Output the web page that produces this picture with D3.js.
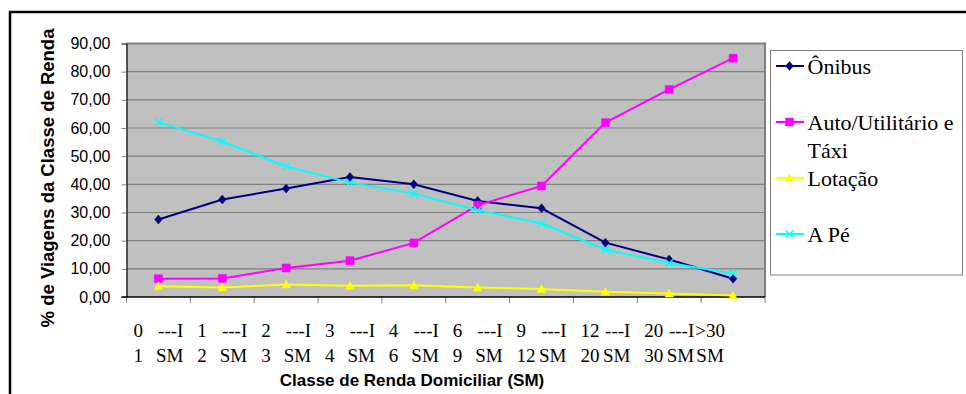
<!DOCTYPE html>
<html>
<head>
<meta charset="utf-8">
<script src="https://cdn.jsdelivr.net/npm/d3@7"></script>
<style>
  html, body { margin: 0; padding: 0; background: #fff; }
  svg { display: block; }
</style>
</head>
<body>
<svg id="chart" width="966" height="394"></svg>
<script>
// Income classes (in minimum wages, SM)
const categories = ["0 ---I 1 SM", "1 ---I 2 SM", "2 ---I 3 SM", "3 ---I 4 SM", "4 ---I 6 SM",
                    "6 ---I 9 SM", "9 ---I 12 SM", "12 ---I 20 SM", "20 ---I 30 SM", ">30 SM"];

// Share of trips (%) by mode for each income class
const onibus  = [27.5, 34.6, 38.5, 42.6, 40.0, 34.1, 31.5, 19.3, 13.3, 6.5];
const auto    = [6.5, 6.6, 10.3, 12.9, 19.2, 32.6, 39.4, 61.9, 73.7, 84.8];
const lotacao = [3.8, 3.4, 4.4, 4.0, 4.2, 3.4, 2.8, 1.9, 1.2, 0.5];
const aPe     = [62.1, 55.2, 46.4, 40.6, 36.7, 30.8, 26.2, 16.8, 12.1, 8.3];

const seriesNames = ["Ônibus", "Auto/Utilitário e Táxi", "Lotação", "A Pé"];
const yTicks = [0, 10, 20, 30, 40, 50, 60, 70, 80, 90];

const series = [
  { name: seriesNames[0], values: onibus,  color: "#000080", marker: "diamond" },
  { name: seriesNames[1], values: auto,    color: "#FF00FF", marker: "square" },
  { name: seriesNames[2], values: lotacao, color: "#FFFF00", marker: "triangle" },
  { name: seriesNames[3], values: aPe,     color: "#00FFFF", marker: "cross" }
];

const SERIF = "Liberation Serif";
const SANS = "Liberation Sans";

const svg = d3.select("#chart");
const plot = { left: 126.5, right: 765, top: 43.5, bottom: 297 };

const x = d3.scaleBand().domain(categories).range([plot.left, plot.right]).padding(0);
const y = d3.scaleLinear().domain([0, 90]).range([plot.bottom, plot.top]);
const cx = c => x(c) + x.bandwidth() / 2;

const ptBR = d3.formatLocale({ decimal: ",", thousands: ".", grouping: [3], currency: ["R$", ""] });
const fmt = ptBR.format(".2f");

// Outer chart frame
svg.append("rect")
  .attr("x", 10).attr("y", 12).attr("width", 990).attr("height", 420)
  .attr("fill", "none").attr("stroke", "#000").attr("stroke-width", 2.5);

// Plot area background
svg.append("rect")
  .attr("x", plot.left).attr("y", plot.top)
  .attr("width", plot.right - plot.left).attr("height", plot.bottom - plot.top)
  .attr("fill", "#C0C0C0");

// Horizontal gridlines
svg.append("g").selectAll("line").data(yTicks.filter(d => d > 0)).join("line")
  .attr("x1", plot.left).attr("x2", plot.right)
  .attr("y1", d => y(d)).attr("y2", d => y(d))
  .attr("stroke", "#808080").attr("stroke-width", d => d === 90 ? 2 : 1.2);

// Right border of the plot area
svg.append("line")
  .attr("x1", plot.right).attr("x2", plot.right)
  .attr("y1", plot.top - 1).attr("y2", plot.bottom)
  .attr("stroke", "#808080").attr("stroke-width", 2);

// Y axis
const yAxis = svg.append("g")
  .attr("transform", `translate(${plot.left},0)`)
  .call(d3.axisLeft(y).tickValues(yTicks).tickFormat(fmt).tickSize(5).tickPadding(11));
yAxis.select(".domain").attr("stroke", "#000").attr("stroke-width", 1.2);
yAxis.selectAll(".tick line").attr("stroke", "#808080");
yAxis.selectAll(".tick text")
  .attr("font-family", SANS)
  .attr("font-size", 16).attr("fill", "#000");

// X axis: tick marks sit on the category boundaries
const boundaries = categories.map(c => x(c)).concat([plot.right]);
svg.append("g").selectAll("line").data(boundaries).join("line")
  .attr("x1", d => d).attr("x2", d => d)
  .attr("y1", plot.bottom).attr("y2", plot.bottom + 6)
  .attr("stroke", "#808080").attr("stroke-width", 1);
svg.append("line")
  .attr("x1", plot.left - 5).attr("x2", plot.right)
  .attr("y1", plot.bottom).attr("y2", plot.bottom)
  .attr("stroke", "#000").attr("stroke-width", 1.5);

// Category labels: two justified lines per class
const labelG = svg.append("g")
  .attr("font-family", SERIF)
  .attr("font-size", 19).attr("fill", "#000");
const half = 25;
const lineY = [337, 362];
categories.forEach(c => {
  const mid = cx(c);
  const words = c.split(" ");
  if (words.length === 4) {
    [[words[0], words[1]], [words[2], words[3]]].forEach((pair, i) => {
      labelG.append("text").attr("x", mid - half).attr("y", lineY[i])
        .attr("text-anchor", "start").text(pair[0]);
      labelG.append("text").attr("x", mid + half).attr("y", lineY[i])
        .attr("text-anchor", "end").text(pair[1]);
    });
  } else {
    words.forEach((w, i) => {
      labelG.append("text").attr("x", mid - 23).attr("y", lineY[i])
        .attr("text-anchor", "middle").text(w);
    });
  }
});

// Axis titles
svg.append("text")
  .attr("x", 412).attr("y", 386)
  .attr("text-anchor", "middle")
  .attr("font-family", SANS)
  .attr("font-weight", "bold").attr("font-size", 17)
  .text("Classe de Renda Domiciliar (SM)");

svg.append("text")
  .attr("transform", "translate(54,178) rotate(-90)")
  .attr("text-anchor", "middle")
  .attr("font-family", SANS)
  .attr("font-weight", "bold").attr("font-size", 18.5)
  .text("% de Viagens da Classe de Renda");

// Marker shapes
function markerPath(type) {
  switch (type) {
    case "diamond":  return "M0,-4.5L3.8,0L0,4.5L-3.8,0Z";
    case "square":   return "M-4,-4H4V4H-4Z";
    case "triangle": return "M0,-4.5L4.3,3.5H-4.3Z";
    case "cross":    return "M-3.8,-3.8L3.8,3.8M-3.8,3.8L3.8,-3.8";
  }
}
function drawMarker(g, type, color) {
  const p = g.append("path").attr("d", markerPath(type));
  if (type === "cross") p.attr("fill", "none").attr("stroke", color).attr("stroke-width", 1.3);
  else p.attr("fill", color).attr("stroke", color).attr("stroke-width", 0.5);
}

// Series lines and markers
const line = d3.line()
  .x((d, i) => cx(categories[i]))
  .y(d => y(d));

series.forEach(s => {
  const g = svg.append("g");
  g.append("path").attr("d", line(s.values))
    .attr("fill", "none").attr("stroke", s.color).attr("stroke-width", 2);
  s.values.forEach((v, i) => {
    const m = g.append("g")
      .attr("transform", `translate(${cx(categories[i])},${y(v)})`);
    drawMarker(m, s.marker, s.color);
  });
});

// Legend
const legend = svg.append("g");
legend.append("rect")
  .attr("x", 770.5).attr("y", 50.5).attr("width", 192).attr("height", 224.5)
  .attr("fill", "#fff").attr("stroke", "#808080").attr("stroke-width", 1);

const legendLines = [["Ônibus"], ["Auto/Utilitário e", "Táxi"], ["Lotação"], ["A Pé"]];
const rowH = 28;
series.forEach((s, i) => {
  const base = 73.5 + i * 2 * rowH;
  const my = base - 7.5;
  const g = legend.append("g");
  g.append("line").attr("x1", 776).attr("x2", 804).attr("y1", my).attr("y2", my)
    .attr("stroke", s.color).attr("stroke-width", 2);
  const m = g.append("g").attr("transform", `translate(789.5,${my})`);
  drawMarker(m, s.marker, s.color);
  legendLines[i].forEach((t, j) => {
    g.append("text").attr("x", 807.5).attr("y", base + j * rowH)
      .attr("font-family", SERIF)
      .attr("font-size", 22).attr("fill", "#000").text(t);
  });
});
</script>
</body>
</html>
